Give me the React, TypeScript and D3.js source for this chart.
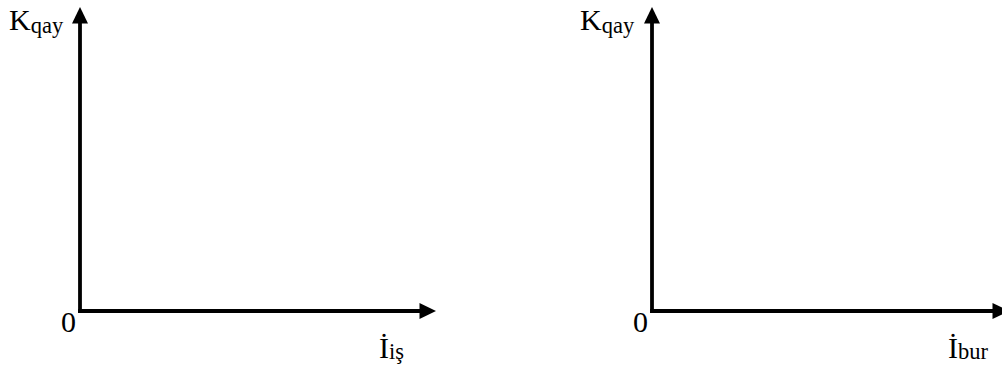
import React from "react";
import * as d3 from "d3";

const panels = ["left", "right"];
const yLabelMain = ["K", "K"];
const yLabelSub = ["qay", "qay"];
const xLabelMain = ["İ", "İ"];
const xLabelSub = ["iş", "bur"];
const originLabels = ["0", "0"];

const W = 1002;
const H = 367;

const panelX = d3.scaleOrdinal<string, number>().domain(panels).range([80, 652]);
const panelXEnd = d3.scaleOrdinal<string, number>().domain(panels).range([436, 1009]);
const yScale = d3.scaleLinear().domain([0, 1]).range([311, 7]);

const FONT = "'Liberation Serif', 'Times New Roman', serif";

function Arrow({ x1, y1, x2, y2 }: { x1: number; y1: number; x2: number; y2: number }) {
  const ang = Math.atan2(y2 - y1, x2 - x1);
  const len = 16.5;
  const hw = 8;
  const bx = x2 - len * Math.cos(ang);
  const by = y2 - len * Math.sin(ang);
  const px = -Math.sin(ang);
  const py = Math.cos(ang);
  const head = d3.path();
  head.moveTo(x2, y2);
  head.lineTo(bx + px * hw, by + py * hw);
  head.lineTo(bx - px * hw, by - py * hw);
  head.closePath();
  return (
    <g>
      <line x1={x1} y1={y1} x2={bx + Math.cos(ang)} y2={by + Math.sin(ang)} stroke="#000" strokeWidth={3.8} />
      <path d={head.toString()} fill="#000" />
    </g>
  );
}

export default function App() {
  const xLabelPos = [379, 948];
  const yLabelPos = [9, 580];
  const zeroPos = [61, 633];
  return (
    <svg
      width={W}
      height={H}
      style={{ position: "absolute", left: 0, top: 0, background: "#fff" }}
      fontFamily={FONT}
    >
      {panels.map((p, i) => {
        const ox = panelX(p);
        const oy = yScale(0);
        return (
          <g key={p}>
            <Arrow x1={ox - 1.9} y1={oy} x2={panelXEnd(p)} y2={oy} />
            <Arrow x1={ox} y1={oy + 1.9} x2={ox} y2={yScale(1)} />
            <text x={yLabelPos[i]} y={30} fontSize={30}>
              {yLabelMain[i]}
              <tspan fontSize={22.5} dy={3}>{yLabelSub[i]}</tspan>
            </text>
            <text x={zeroPos[i]} y={332} fontSize={30}>{originLabels[i]}</text>
            <text x={xLabelPos[i]} y={358} fontSize={30}>
              {xLabelMain[i]}
              <tspan fontSize={22.5} dy={1}>{xLabelSub[i]}</tspan>
            </text>
          </g>
        );
      })}
    </svg>
  );
}
